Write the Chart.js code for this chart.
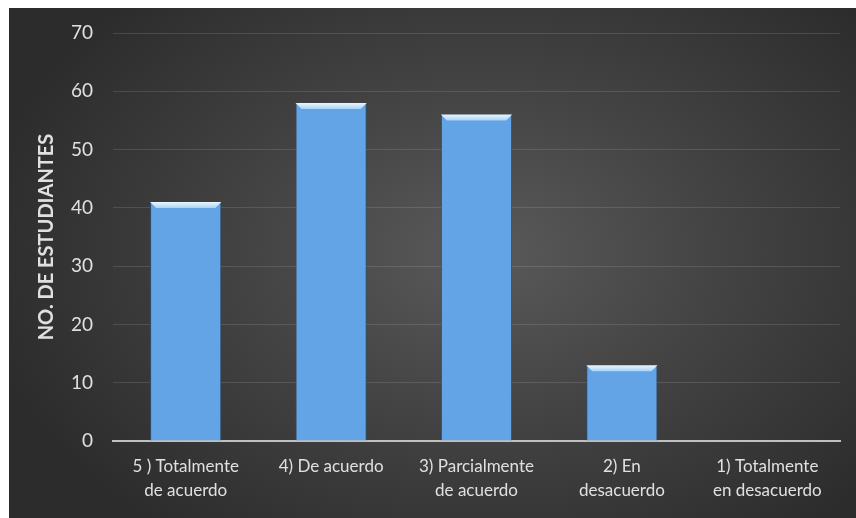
<!DOCTYPE html>
<html>
<head>
<meta charset="utf-8">
<script src="https://cdn.jsdelivr.net/npm/chart.js@4/dist/chart.umd.min.js"></script>
<style>
    html, body { margin: 0; padding: 0; background: #fff; }
    #wrap {
        position: absolute;
        left: 9px; top: 8px;
        width: 847px; height: 510px;
        background: radial-gradient(ellipse 60% 70% at 56% 48%, #5a5a5a 0%, #444 45%, #2c2c2c 100%);
    }
</style>
</head>
<body>
<div id="wrap"><canvas id="chart" width="847" height="510"></canvas></div>
<script>
// chart data
const categories = [
    ['5 ) Totalmente', 'de acuerdo'],
    ['4) De acuerdo'],
    ['3) Parcialmente', 'de acuerdo'],
    ['2) En', 'desacuerdo'],
    ['1) Totalmente', 'en desacuerdo']
];
const students = [41, 58, 56, 13, 0];
const yTicks = [0, 10, 20, 30, 40, 50, 60, 70];

const labelColor = '#e0e0e0';
const fontFamily = 'Lato, "Open Sans", sans-serif';

// light bevel on the top edge of each bar
const bevelPlugin = {
    id: 'bevel',
    afterDatasetsDraw(chart) {
        const ctx = chart.ctx;
        chart.getDatasetMeta(0).data.forEach((bar, i) => {
            if (!students[i]) return;
            const half = bar.width / 2;
            const left = bar.x - half, right = bar.x + half;
            const top = bar.y, depth = 6;
            ctx.save();
            const g = ctx.createLinearGradient(0, top, 0, top + depth);
            g.addColorStop(0, '#eaf6ff');
            g.addColorStop(1, '#a9d4f5');
            ctx.fillStyle = g;
            ctx.beginPath();
            ctx.moveTo(left, top);
            ctx.lineTo(right, top);
            ctx.lineTo(right - depth, top + depth);
            ctx.lineTo(left + depth, top + depth);
            ctx.closePath();
            ctx.fill();
            ctx.restore();
        });
    }
};

const ctx = document.getElementById('chart');
new Chart(ctx, {
    type: 'bar',
    data: {
        labels: categories,
        datasets: [{
            data: students,
            backgroundColor: '#62a4e6',
            borderColor: '#2f4f70',
            borderWidth: 1,
            borderSkipped: 'bottom',
            categoryPercentage: 1,
            barPercentage: 0.49
        }]
    },
    options: {
        responsive: false,
        animation: false,
        layout: { padding: { top: 0, right: 16, left: 0, bottom: 0 } },
        plugins: {
            legend: { display: false },
            tooltip: { enabled: false }
        },
        scales: {
            x: {
                grid: { display: false },
                border: { color: '#c0c0c0', width: 2 },
                ticks: {
                    color: labelColor,
                    font: { family: fontFamily, size: 17, lineHeight: 1.38 },
                    maxRotation: 0,
                    autoSkip: false,
                    padding: 6
                },
                afterFit(scale) { scale.height = 77; }
            },
            y: {
                min: 0,
                max: 70,
                afterBuildTicks(scale) {
                    scale.ticks = yTicks.map(v => ({ value: v }));
                },
                grid: {
                    color: 'rgba(255,255,255,0.12)',
                    lineWidth: 1,
                    drawTicks: false
                },
                border: { display: false },
                ticks: {
                    color: labelColor,
                    font: { family: fontFamily, size: 19 },
                    padding: 20
                },
                title: {
                    display: true,
                    text: 'NO. DE ESTUDIANTES',
                    color: labelColor,
                    font: { family: fontFamily, size: 20, weight: 'bold' },
                    padding: { top: 26, bottom: 0 }
                },
                afterFit(scale) {
                    scale.width = 104;
                    scale.paddingTop = 25;
                }
            }
        }
    },
    plugins: [bevelPlugin]
});
</script>
</body>
</html>
